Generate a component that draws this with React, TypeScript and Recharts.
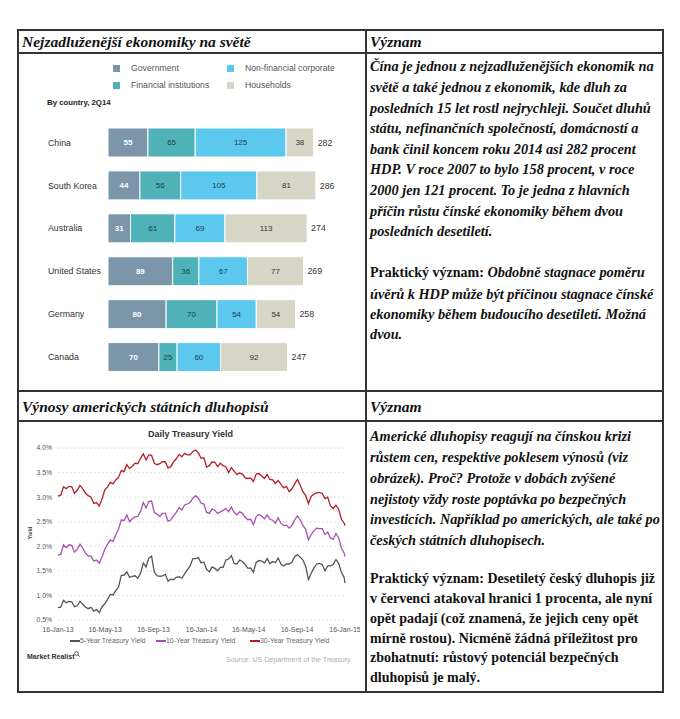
import React from "react";
import {
  BarChart,
  Bar,
  XAxis,
  YAxis,
  LabelList,
  LineChart,
  Line,
  CartesianGrid,
} from "recharts";

// --- debt by country (% of GDP), 2Q14 ---
const countries = ["China", "South Korea", "Australia", "United States", "Germany", "Canada"];
const government = [55, 44, 31, 89, 80, 70];
const financial = [65, 56, 61, 36, 70, 25];
const nonFinancial = [125, 105, 69, 67, 54, 60];
const households = [38, 81, 113, 77, 54, 92];
const totals = [282, 286, 274, 269, 258, 247];

// --- daily treasury yield, sampled weekly from 16-Jan-13 ---
const yieldTickDays = [0, 120, 243, 365, 485, 608, 730];
const yieldTickLabels = ["16-Jan-13", "16-May-13", "16-Sep-13", "16-Jan-14", "16-May-14", "16-Sep-14", "16-Jan-15"];
const yieldTicks = [0.5, 1, 1.5, 2, 2.5, 3, 3.5, 4];

const fiveYear = [
  0.75, 0.76, 0.9, 0.85, 0.88, 0.87, 0.77, 0.79, 0.88, 0.82, 0.76, 0.73, 0.76, 0.68, 0.71, 0.65, 0.77, 0.83, 0.92, 1.02,
  1.01, 1.1, 1.17, 1.41, 1.41, 1.48, 1.37, 1.39, 1.4, 1.35, 1.45, 1.66, 1.58, 1.76, 1.8, 1.47, 1.4, 1.39, 1.4, 1.43,
  1.29, 1.33, 1.32, 1.37, 1.38, 1.35, 1.44, 1.52, 1.6, 1.75,
  1.75, 1.77, 1.66, 1.68, 1.53, 1.48, 1.58, 1.55, 1.5, 1.57, 1.57, 1.72, 1.74, 1.81, 1.65, 1.64, 1.72, 1.69, 1.63, 1.55,
  1.56, 1.47, 1.67, 1.71, 1.7, 1.66, 1.75, 1.65, 1.69, 1.67, 1.76, 1.64, 1.6, 1.64, 1.64, 1.68, 1.79, 1.83, 1.78, 1.72,
  1.59, 1.32, 1.45, 1.56, 1.64, 1.65, 1.63, 1.5, 1.6, 1.6, 1.63, 1.73, 1.65,
  1.47, 1.36, 1.25,
];
const tenYear = [
  1.82, 1.84, 2.03, 1.97, 2.03, 2.02, 1.88, 1.94, 2.04, 1.96, 1.86, 1.8, 1.8, 1.7, 1.72, 1.66, 1.78, 1.94, 2.04, 2.13,
  2.1, 2.23, 2.35, 2.54, 2.52, 2.64, 2.5, 2.56, 2.6, 2.61, 2.71, 2.89, 2.78, 2.91, 2.92, 2.69, 2.65, 2.61, 2.67, 2.67,
  2.51, 2.54, 2.62, 2.69, 2.79, 2.74, 2.84, 2.86, 2.89, 2.98,
  3.03, 2.98, 2.88, 2.86, 2.69, 2.67, 2.76, 2.73, 2.67, 2.7, 2.73, 2.77, 2.7, 2.8, 2.69, 2.64, 2.7, 2.67, 2.59, 2.54,
  2.55, 2.44, 2.6, 2.65, 2.61, 2.56, 2.64, 2.55, 2.53, 2.47, 2.58, 2.47, 2.42, 2.43, 2.37, 2.42, 2.54, 2.62, 2.54, 2.42,
  2.35, 2.13, 2.24, 2.32, 2.37, 2.36, 2.36, 2.24, 2.29, 2.17, 2.14, 2.26, 2.17,
  1.96, 1.86, 1.79,
];
const thirtyYear = [
  3.02, 3.04, 3.21, 3.17, 3.22, 3.21, 3.08, 3.14, 3.24, 3.17, 3.08, 3.03, 3.0, 2.87, 2.89, 2.82, 2.96, 3.15, 3.21, 3.3,
  3.27, 3.35, 3.4, 3.54, 3.52, 3.66, 3.58, 3.63, 3.69, 3.68, 3.79, 3.88, 3.76, 3.86, 3.85, 3.69, 3.66, 3.68, 3.72, 3.72,
  3.59, 3.62, 3.72, 3.78, 3.87, 3.82, 3.89, 3.86, 3.86, 3.93,
  3.96, 3.9, 3.79, 3.8, 3.61, 3.64, 3.72, 3.71, 3.62, 3.69, 3.64, 3.62, 3.5, 3.6, 3.53, 3.46, 3.49, 3.47, 3.39, 3.38,
  3.39, 3.32, 3.47, 3.48, 3.43, 3.38, 3.46, 3.36, 3.35, 3.28, 3.34, 3.26, 3.19, 3.22, 3.11, 3.17, 3.27, 3.36, 3.24, 3.11,
  3.03, 2.87, 3.02, 3.06, 3.09, 3.09, 3.08, 2.97, 3.0, 2.82, 2.77, 2.84, 2.75,
  2.55, 2.47, 2.42,
];

const debtColors = {
  government: "#7b96a8",
  financial: "#4fb2b8",
  nonFinancial: "#5cc8ee",
  households: "#d7d5c5",
};
const yieldColors = { y5: "#555555", y10: "#a64fb3", y30: "#b21f28" };

const debtRows = countries.map((country, i) => ({
  country,
  government: government[i],
  financial: financial[i],
  nonFinancial: nonFinancial[i],
  households: households[i],
  total: totals[i],
}));

const yieldRows = fiveYear.map((v, i) => ({
  day: Math.min(i * 7, 730),
  y5: v,
  y10: tenYear[i],
  y30: thirtyYear[i],
}));

const serif = '"Liberation Serif", "Times New Roman", serif';
const sans = '"Liberation Sans", Arial, sans-serif';
const border = "#333";

function CountryTick(props: any) {
  const { y, payload } = props;
  return (
    <text x={30} y={y} dy={3.2} textAnchor="start" fontSize={8.8} fill="#333" fontFamily={sans}>
      {payload.value}
    </text>
  );
}

function Hline({ y }: { y: number }) {
  return <div style={{ position: "absolute", left: 17, top: y, width: 647, height: 2, background: border }} />;
}
function Vline({ x }: { x: number }) {
  return <div style={{ position: "absolute", left: x, top: 29, width: 2, height: 664, background: border }} />;
}

const headStyle: React.CSSProperties = {
  position: "absolute",
  fontFamily: serif,
  fontStyle: "italic",
  fontWeight: 700,
  fontSize: 15.5,
  whiteSpace: "nowrap",
  color: "#111",
};

const bodyStyle: React.CSSProperties = {
  position: "absolute",
  left: 370,
  fontFamily: serif,
  fontStyle: "italic",
  fontWeight: 700,
  fontSize: 14.3,
  whiteSpace: "nowrap",
  color: "#111",
};

const up: React.CSSProperties = { fontStyle: "normal", fontSize: 14 };

function DebtChart() {
  const legend = [
    { label: "Government", color: debtColors.government, x: 95, y: 11 },
    { label: "Non-financial corporate", color: debtColors.nonFinancial, x: 209, y: 11 },
    { label: "Financial institutions", color: debtColors.financial, x: 95, y: 28 },
    { label: "Households", color: debtColors.households, x: 209, y: 28 },
  ];
  return (
    <div style={{ position: "absolute", left: 18, top: 53, width: 348, height: 338, fontFamily: sans }}>
      {legend.map((l) => (
        <div key={l.label} style={{ position: "absolute", left: l.x, top: l.y, height: 8, display: "flex", alignItems: "center" }}>
          <div style={{ width: 7, height: 7, background: l.color }} />
          <span style={{ marginLeft: 11, fontSize: 8.7, color: "#555", lineHeight: "8px" }}>{l.label}</span>
        </div>
      ))}
      <div style={{ position: "absolute", left: 29, top: 45, fontSize: 7.8, fontWeight: 700, color: "#222" }}>
        By country, 2Q14
      </div>
      <BarChart
        layout="vertical"
        width={348}
        height={338}
        data={debtRows}
        margin={{ top: 68, right: 40, bottom: 12.5, left: 0 }}
      >
        <XAxis type="number" domain={[0, 300]} hide />
        <YAxis type="category" dataKey="country" width={90} axisLine={false} tickLine={false} tick={<CountryTick />} />
        <Bar dataKey="government" stackId="a" fill={debtColors.government} stroke="#fff" strokeWidth={1} barSize={29} isAnimationActive={false}>
          <LabelList dataKey="government" position="center" fill="#fff" fontSize={8} fontWeight={700} fontFamily={sans} />
        </Bar>
        <Bar dataKey="financial" stackId="a" fill={debtColors.financial} stroke="#fff" strokeWidth={1} barSize={29} isAnimationActive={false}>
          <LabelList dataKey="financial" position="center" fill="#1d3f44" fontSize={8} fontFamily={sans} />
        </Bar>
        <Bar dataKey="nonFinancial" stackId="a" fill={debtColors.nonFinancial} stroke="#fff" strokeWidth={1} barSize={29} isAnimationActive={false}>
          <LabelList dataKey="nonFinancial" position="center" fill="#1d3f50" fontSize={8} fontFamily={sans} />
        </Bar>
        <Bar dataKey="households" stackId="a" fill={debtColors.households} stroke="#fff" strokeWidth={1} barSize={29} isAnimationActive={false}>
          <LabelList dataKey="households" position="center" fill="#333" fontSize={8} fontFamily={sans} />
          <LabelList dataKey="total" position="right" offset={4} fill="#333" fontSize={8.8} fontFamily={sans} />
        </Bar>
      </BarChart>
    </div>
  );
}

function YieldChart() {
  const legend = [
    { label: "5-Year Treasury Yield", color: yieldColors.y5, x: 52 },
    { label: "10-Year Treasury Yield", color: yieldColors.y10, x: 138 },
    { label: "30-Year Treasury Yield", color: yieldColors.y30, x: 232 },
  ];
  return (
    <div style={{ position: "absolute", left: 18, top: 421, width: 342, height: 271, overflow: "hidden", fontFamily: sans }}>
      <div style={{ position: "absolute", left: 0, width: 345, top: 8, textAlign: "center", fontSize: 9, fontWeight: 700, color: "#333" }}>
        Daily Treasury Yield
      </div>
      <div
        style={{
          position: "absolute",
          left: 12,
          top: 112,
          transform: "translate(-50%, -50%) rotate(-90deg)",
          fontSize: 5.5,
          fontWeight: 700,
          color: "#444",
        }}
      >
        Yield
      </div>
      <LineChart width={348} height={271} data={yieldRows} margin={{ top: 27, right: 21, bottom: 52, left: 0 }}>
        <CartesianGrid vertical={false} stroke="#e2e2e2" strokeDasharray="2 2" />
        <XAxis
          type="number"
          dataKey="day"
          domain={[0, 730]}
          ticks={yieldTickDays}
          interval={0}
          tickFormatter={(d: number) => yieldTickLabels[yieldTickDays.indexOf(d)]}
          axisLine={false}
          tickLine={false}
          tickSize={4}
          tickMargin={3}
          height={20}
          tick={{ fontSize: 7, fill: "#555", fontFamily: sans }}
        />
        <YAxis
          domain={[0.5, 4]}
          ticks={yieldTicks}
          interval={0}
          tickFormatter={(v: number) => v.toFixed(1) + "%"}
          width={40}
          axisLine={false}
          tickLine={false}
          tickSize={4}
          tickMargin={2}
          tick={{ fontSize: 6.8, fill: "#555", fontFamily: sans }}
        />
        <Line type="linear" dataKey="y5" stroke={yieldColors.y5} strokeWidth={1.3} dot={false} isAnimationActive={false} />
        <Line type="linear" dataKey="y10" stroke={yieldColors.y10} strokeWidth={1.3} dot={false} isAnimationActive={false} />
        <Line type="linear" dataKey="y30" stroke={yieldColors.y30} strokeWidth={1.3} dot={false} isAnimationActive={false} />
      </LineChart>
      {legend.map((l) => (
        <div key={l.label} style={{ position: "absolute", left: l.x, top: 216, display: "flex", alignItems: "center", height: 8 }}>
          <div style={{ width: 10, height: 1.5, background: l.color }} />
          <span style={{ fontSize: 6.9, color: "#666", lineHeight: "8px" }}>{l.label}</span>
        </div>
      ))}
      <div style={{ position: "absolute", left: 9, top: 232, fontSize: 7, fontWeight: 700, color: "#333", display: "flex" }}>
        Market Realist
        <svg width={6} height={6} style={{ marginTop: -2 }}>
          <circle cx={2.5} cy={2.5} r={1.8} fill="none" stroke="#333" strokeWidth={0.8} />
          <line x1={3.8} y1={3.8} x2={5.6} y2={5.6} stroke="#333" strokeWidth={0.9} />
        </svg>
      </div>
      <div style={{ position: "absolute", left: 208, top: 235, fontSize: 7.1, color: "#b0b0b0", whiteSpace: "nowrap" }}>
        Source: US Department of the Treasury
      </div>
    </div>
  );
}

export default function App() {
  return (
    <div style={{ position: "absolute", left: 0, top: 0, width: 680, height: 719, background: "#fff" }}>
      <DebtChart />
      <YieldChart />

      <div style={{ ...headStyle, left: 22, top: 31, lineHeight: "22px" }}>Nejzadluženější ekonomiky na světě</div>
      <div style={{ ...headStyle, left: 370, top: 31, lineHeight: "22px" }}>Význam</div>
      <div style={{ ...headStyle, left: 22, top: 392, lineHeight: "29px" }}>Výnosy amerických státních dluhopisů</div>
      <div style={{ ...headStyle, left: 370, top: 392, lineHeight: "29px" }}>Význam</div>

      <div style={{ ...bodyStyle, top: 56.4, lineHeight: "20.6px" }}>
        <div>Čína je jednou z nejzadluženějších ekonomik na</div>
        <div>světě a také jednou z ekonomik, kde dluh za</div>
        <div>posledních 15 let rostl nejrychleji. Součet dluhů</div>
        <div>státu, nefinančních společností, domácností a</div>
        <div>bank činil koncem roku 2014 asi 282 procent</div>
        <div>HDP. V roce 2007 to bylo 158 procent, v roce</div>
        <div>2000 jen 121 procent. To je jedna z hlavních</div>
        <div>příčin růstu čínské ekonomiky během dvou</div>
        <div>posledních desetiletí.</div>
      </div>
      <div style={{ ...bodyStyle, top: 262.4, lineHeight: "20.2px" }}>
        <div>
          <span style={up}>Praktický význam: </span>Obdobně stagnace poměru
        </div>
        <div>úvěrů k HDP může být příčinou stagnace čínské</div>
        <div>ekonomiky během budoucího desetiletí. Možná</div>
        <div>dvou.</div>
      </div>

      <div style={{ ...bodyStyle, top: 426.3, lineHeight: "20.8px" }}>
        <div>Americké dluhopisy reagují na čínskou krizi</div>
        <div>růstem cen, respektive poklesem výnosů (viz</div>
        <div>obrázek). Proč? Protože v dobách zvýšené</div>
        <div>nejistoty vždy roste poptávka po bezpečných</div>
        <div>investicích. Například po amerických, ale také po</div>
        <div>českých státních dluhopisech.</div>
      </div>
      <div style={{ ...bodyStyle, ...up, top: 569.3, lineHeight: "19.8px" }}>
        <div>Praktický význam: Desetiletý český dluhopis již</div>
        <div>v červenci atakoval hranici 1 procenta, ale nyní</div>
        <div>opět padají (což znamená, že jejich ceny opět</div>
        <div>mírně rostou). Nicméně žádná příležitost pro</div>
        <div>zbohatnutí: růstový potenciál bezpečných</div>
        <div>dluhopisů je malý.</div>
      </div>

      <Hline y={29} />
      <Hline y={52} />
      <Hline y={390} />
      <Hline y={420} />
      <Hline y={691} />
      <Vline x={17} />
      <Vline x={365} />
      <Vline x={662} />
    </div>
  );
}
